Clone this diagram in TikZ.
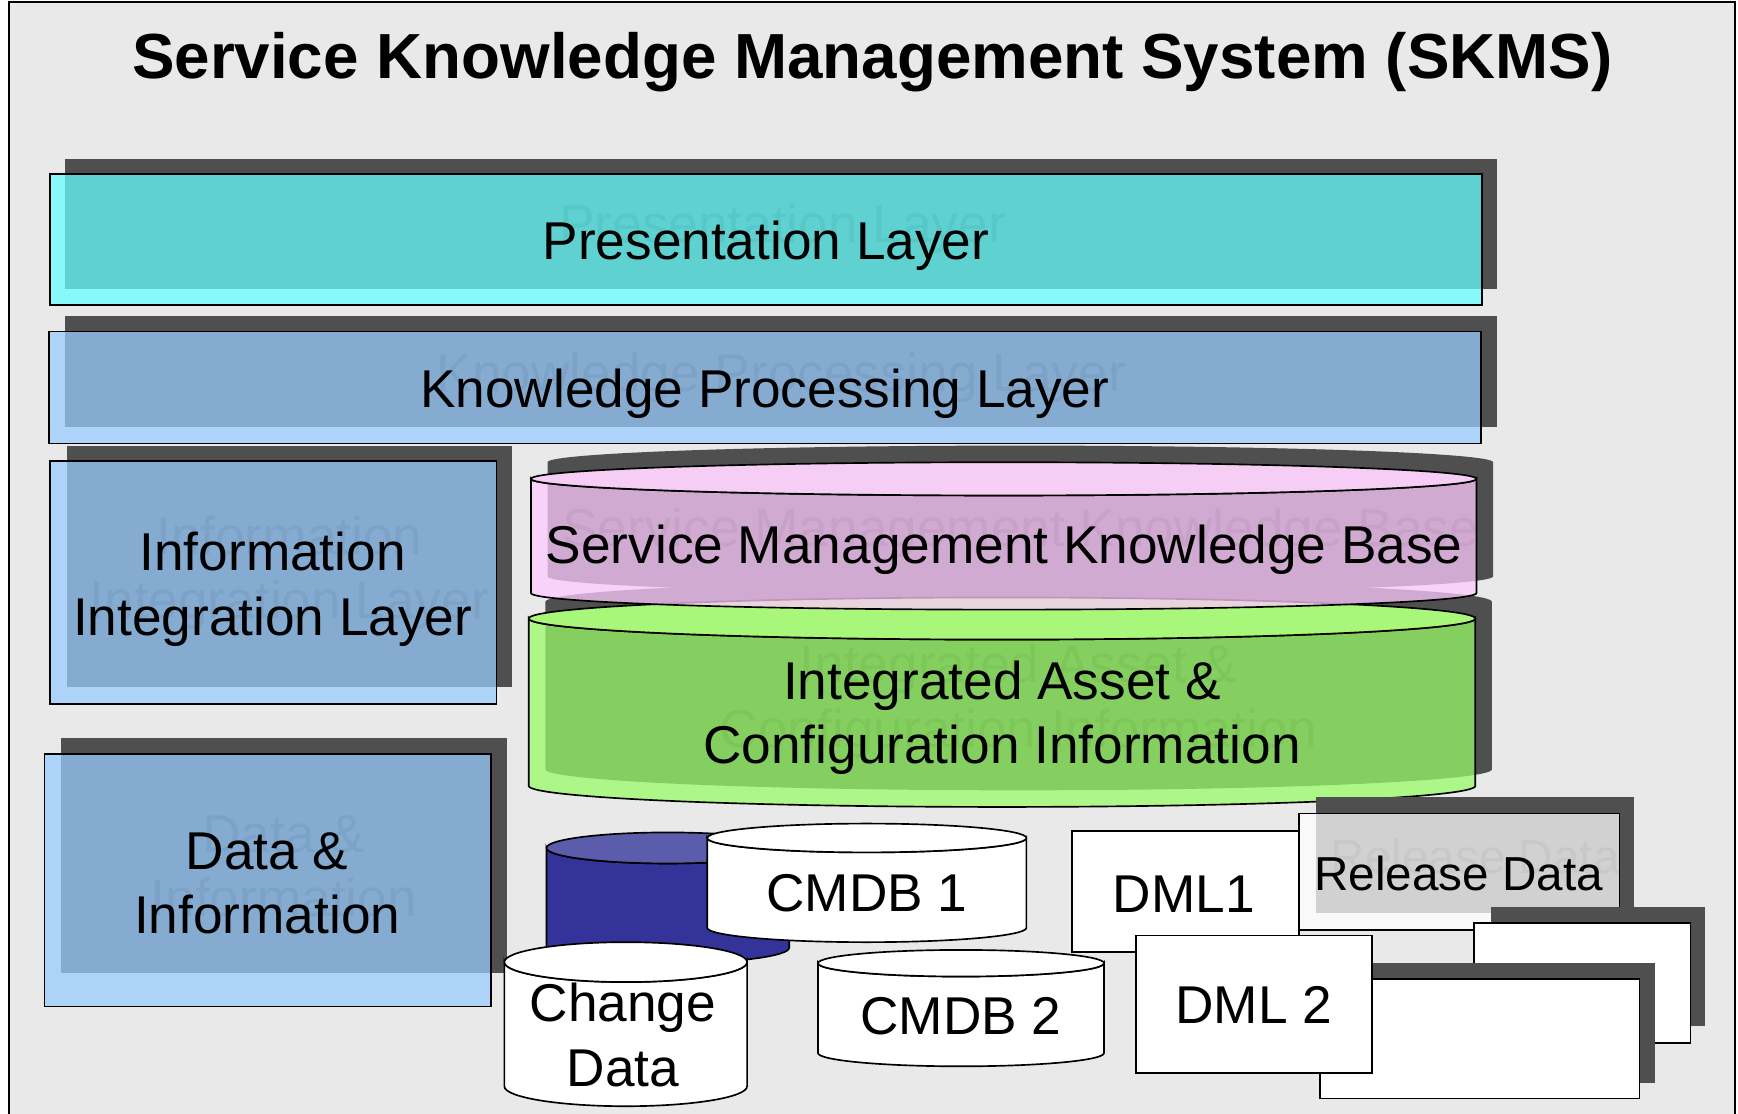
\documentclass[tikz,border=0pt]{standalone}
\usepackage{fontspec}
\setmainfont{Liberation Sans}

\definecolor{framegray}{RGB}{233,233,233}
\definecolor{shadowgray}{RGB}{79,79,79}
\definecolor{ghostgray}{RGB}{45,45,45}
\definecolor{presCyan}{RGB}{102,255,255}
\definecolor{procBlue}{RGB}{153,204,255}
\definecolor{kbPink}{RGB}{255,202,255}
\definecolor{kbPinkTop}{RGB}{245,205,245}
\definecolor{ciGreen}{RGB}{153,253,104}
\definecolor{ciGreenTop}{RGB}{168,246,122}
\definecolor{dataNavy}{RGB}{51,51,153}
\definecolor{dataNavyTop}{RGB}{92,92,172}

% cylinder: body options, top options, x1, x2, top y, bottom y, half height of the ends
\newcommand{\dbcyl}[7]{%
    \filldraw[db line,#1] (#3,#5) -- (#3,#6)
        arc[start angle=180,end angle=0,x radius={(#4-#3)/2},y radius=#7]
        -- (#4,#5) arc[start angle=0,end angle=180,x radius={(#4-#3)/2},y radius=#7] -- cycle;
    \filldraw[db line,#2] ({(#3+#4)/2},#5) ellipse[x radius={(#4-#3)/2},y radius=#7];
}
% shadow outline of a cylinder: x1, x2, top y, bottom y, half height of the ends
\newcommand{\cylshadow}[5]{%
    \fill[shade box] (#1,#3) -- (#1,#4)
        arc[start angle=180,end angle=0,x radius={(#2-#1)/2},y radius=#5]
        -- (#2,#3) arc[start angle=0,end angle=-180,x radius={(#2-#1)/2},y radius=#5] -- cycle;
}

\begin{document}
\begin{tikzpicture}[x=1pt,y=1pt,yscale=-1,
    shade box/.style={fill=shadowgray},
    db line/.style={draw=black,line width=1.5pt},
    layer box/.style={draw=black,line width=1.5pt,fill opacity=.74},
    plain box/.style={draw=black,line width=1.5pt,fill=white},
    label text/.style={font=\fontsize{48}{58}\selectfont,align=center,anchor=base,inner sep=0pt},
    ghost text/.style={label text,text=ghostgray}]
    \useasboundingbox (0,0) rectangle (1568,1005);

    % Frame and title
    \filldraw[fill=framegray,draw=black,line width=1.5pt] (8,2) rectangle (1565,1040);
    \node[font=\fontsize{57.5}{60}\selectfont\bfseries,anchor=base,inner sep=0pt] (title) at (787,71)
        {Service Knowledge Management System (SKMS)};

    % Presentation layer
    \fill[shade box] (59,143) rectangle (1351,261);
    \node[ghost text] (presGhost) at (706,219) {Presentation Layer};
    \filldraw[layer box,fill=presCyan] (45,157) rectangle (1337,275);
    \node[label text] (pres) at (691,234) {Presentation Layer};

    % Knowledge processing layer
    \fill[shade box] (59,285) rectangle (1351,385);
    \node[ghost text] (procGhost) at (705,353) {Knowledge Processing Layer};
    \filldraw[layer box,fill=procBlue] (44,299) rectangle (1336,400);
    \node[label text] (proc) at (690,368) {Knowledge Processing Layer};

    % Information integration layer
    \fill[shade box] (60,402) rectangle (462,620);
    \node[ghost text] (integGhost) at (261,558) {Information\\Integration Layer};
    \filldraw[layer box,fill=procBlue] (45,416) rectangle (448,635);
    \node[label text] (integ) at (246,573) {Information\\Integration Layer};

    % Data and information
    \fill[shade box] (55,666) rectangle (457,878);
    \node[ghost text] (dataGhost) at (256,827) {Data \&\\Information};
    \filldraw[layer box,fill=procBlue] (40,680) rectangle (443,908);
    \node[label text] (data) at (241,842) {Data \&\\Information};

    % Integrated asset and configuration information
    \cylshadow{492}{1346}{543}{694}{19}
    \node[ghost text] (ciGhost) at (919,674) {Integrated Asset \&\\Configuration Information};
    \dbcyl{fill=ciGreen,fill opacity=.74}{fill=ciGreenTop}{477}{1331}{558}{709}{19}
    \node[label text] (ci) at (904,689) {Integrated Asset \&\\Configuration Information};

    % Service management knowledge base
    \cylshadow{494}{1347}{417}{520}{15}
    \node[ghost text] (kbGhost) at (921,493) {Service Management Knowledge Base};
    \dbcyl{fill=kbPink,fill opacity=.74}{fill=kbPinkTop}{479}{1332}{432}{535}{15}
    \node[label text] (kb) at (906,508) {Service Management Knowledge Base};

    % Data stores
    \dbcyl{fill=dataNavy}{fill=dataNavyTop}{493}{712}{765}{855}{14}
    \dbcyl{fill=white}{fill=white}{638}{926}{756}{837}{13}
    \node[label text] (cmdbA) at (782,822) {CMDB 1};
    \dbcyl{fill=white}{fill=white}{455}{674}{868}{980}{18}
    \node[label text] (change) at (562,980) {Change\\Data};
    \dbcyl{fill=white}{fill=white}{738}{996}{869}{950}{12}
    \node[label text] (cmdbB) at (867,933) {CMDB 2};

    % DML and release data
    \filldraw[plain box] (967,750) rectangle (1172,859);
    \node[label text] (dmlA) at (1068,823) {DML1};
    \fill[shade box] (1187,719) rectangle (1474,824);
    \node[ghost text,font=\fontsize{43}{50}\selectfont] (relGhost) at (1331,788) {Release Data};
    \filldraw[layer box,fill=white] (1172,734) rectangle (1461,839);
    \node[label text,font=\fontsize{43}{50}\selectfont] (rel) at (1316,803) {Release Data};
    \fill[shade box] (1345,818) rectangle (1538,926);
    \filldraw[plain box] (1330,833) rectangle (1525,941);
    \fill[shade box] (1238,869) rectangle (1493,977);
    \filldraw[plain box] (1191,883) rectangle (1479,991);
    \filldraw[plain box] (1025,844) rectangle (1238,968);
    \node[label text] (dmlB) at (1131,923) {DML 2};
\end{tikzpicture}
\end{document}
